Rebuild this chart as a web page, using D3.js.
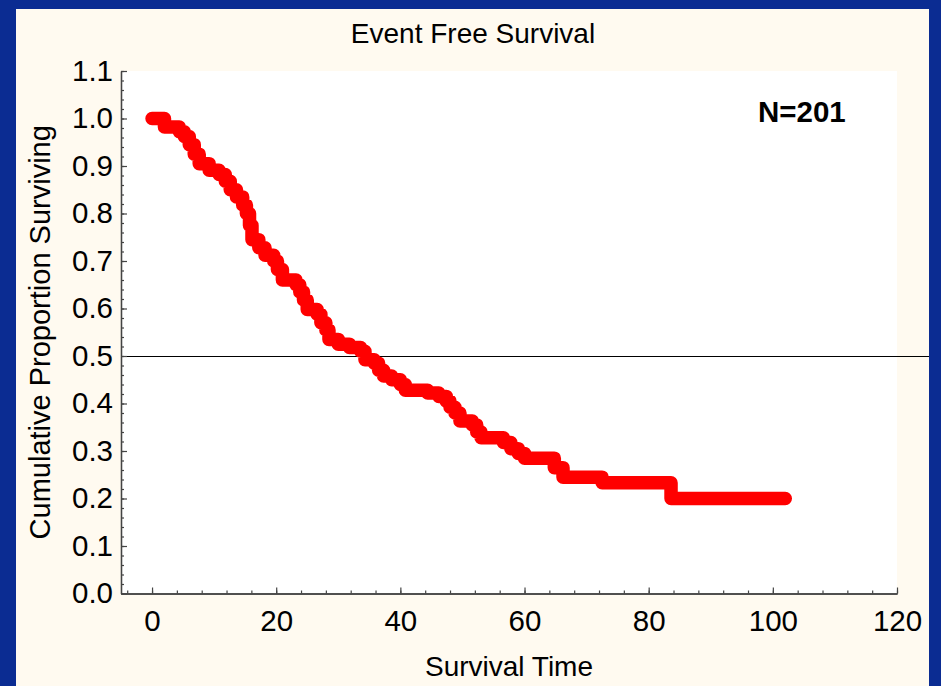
<!DOCTYPE html>
<html><head><meta charset="utf-8">
<script src="https://cdn.jsdelivr.net/npm/d3@7"></script>
<style>
body{margin:0;background:#0b2c92;}
svg{display:block;}
text{font-family:"Liberation Sans",Arial,Helvetica,sans-serif;fill:#000;}
</style>
</head><body>
<svg id="chart" width="941" height="686"></svg>
<script>
// ---- data ----
const eventTimes = [0, 2.0, 4.4, 5.2, 6.0, 6.8, 7.6, 9.2, 10.8, 11.8, 12.6, 13.6, 14.6, 15.2, 15.7, 16.1, 17.2, 18.2, 19.6, 20.2, 21.0, 23.2, 23.8, 24.4, 25.0, 26.6, 27.2, 28.0, 28.5, 30.0, 31.8, 33.6, 34.3, 35.8, 36.5, 37.3, 38.6, 40.0, 40.8, 44.4, 46.2, 47.4, 48.0, 48.8, 49.6, 51.6, 52.3, 53.0, 56.6, 57.8, 59.0, 60.0, 64.8, 66.2, 72.5, 83.6];
const survival   = [1.0, 0.982, 0.972, 0.962, 0.945, 0.925, 0.905, 0.891, 0.882, 0.868, 0.850, 0.835, 0.818, 0.800, 0.775, 0.745, 0.728, 0.712, 0.700, 0.682, 0.660, 0.650, 0.635, 0.618, 0.598, 0.588, 0.570, 0.555, 0.535, 0.525, 0.518, 0.510, 0.492, 0.485, 0.470, 0.458, 0.450, 0.440, 0.428, 0.422, 0.415, 0.405, 0.392, 0.380, 0.363, 0.355, 0.340, 0.328, 0.318, 0.305, 0.295, 0.285, 0.265, 0.245, 0.233, 0.200];
const lastFollowUp = 102;
const xTickValues = [0, 20, 40, 60, 80, 100, 120];
const yTickValues = [0, 0.1, 0.2, 0.3, 0.4, 0.5, 0.6, 0.7, 0.8, 0.9, 1.0, 1.1];
const referenceLevel = 0.5;
const chartTitle = "Event Free Survival";
const xTitle = "Survival Time";
const yTitle = "Cumulative Proportion Surviving";
const noteText = "N=201";

// ---- layout ----
const svg = d3.select("#chart");
const panel = {x0: 16, y0: 9, x1: 929, y1: 686};
const plot = {left: 121, right: 897, top: 71, bottom: 593.5};

const x = d3.scaleLinear().domain([-5, 120]).range([plot.left, plot.right]);
const y = d3.scaleLinear().domain([0, 1.1]).range([plot.bottom, plot.top]);

svg.append("rect").attr("x", 0).attr("y", 0).attr("width", 941).attr("height", 686).attr("fill", "#0b2c92");
svg.append("rect").attr("x", panel.x0).attr("y", panel.y0)
  .attr("width", panel.x1 - panel.x0).attr("height", panel.y1 - panel.y0).attr("fill", "#fffaf0");
svg.append("rect").attr("x", plot.left).attr("y", plot.top)
  .attr("width", plot.right - plot.left).attr("height", plot.bottom - plot.top).attr("fill", "#ffffff");

// reference line
svg.append("line")
  .attr("x1", x.range()[0]).attr("x2", panel.x1)
  .attr("y1", y(referenceLevel) + 0.5).attr("y2", y(referenceLevel) + 0.5)
  .attr("stroke", "#000").attr("stroke-width", 1).attr("shape-rendering", "crispEdges");

// survival curve
const pts = eventTimes.map((t, i) => [t, survival[i]]);
pts.push([lastFollowUp, survival[survival.length - 1]]);
const line = d3.line().x(d => x(d[0])).y(d => y(d[1])).curve(d3.curveStepAfter);
svg.append("path").datum(pts).attr("d", line)
  .attr("fill", "none").attr("stroke", "#ff0000").attr("stroke-width", 13.5)
  .attr("stroke-linejoin", "round").attr("stroke-linecap", "round");

// axes
const axisColor = "#444";
function styleAxis(g) {
  g.selectAll("path.domain").attr("stroke", axisColor).attr("stroke-width", 1.3);
  g.selectAll(".tick line").attr("stroke", axisColor).attr("stroke-width", 1.2);
  g.selectAll("text").attr("font-size", 29.5).attr("font-family", "'Liberation Sans', Arial, sans-serif").attr("fill", "#000");
}
// minor ticks
const gyMinor = svg.append("g").attr("transform", `translate(${plot.left},0)`)
  .call(d3.axisLeft(y).tickValues(d3.range(0, 1.1001, 0.02)).tickSizeInner(-3).tickSizeOuter(0).tickFormat(""));
styleAxis(gyMinor);
const gxMinor = svg.append("g").attr("transform", `translate(0,${plot.bottom})`)
  .call(d3.axisBottom(x).tickValues(d3.range(-4, 121, 4)).tickSizeInner(-3).tickSizeOuter(0).tickFormat(""));
styleAxis(gxMinor);
// major
const gy = svg.append("g").attr("transform", `translate(${plot.left},0)`)
  .call(d3.axisLeft(y).tickValues(yTickValues).tickSizeInner(-6).tickSizeOuter(0).tickPadding(8).tickFormat(d3.format(".1f")));
styleAxis(gy);
const gx = svg.append("g").attr("transform", `translate(0,${plot.bottom})`)
  .call(d3.axisBottom(x).tickValues(xTickValues).tickSizeInner(-6).tickSizeOuter(0).tickPadding(16.5).tickFormat(d3.format("d")));
styleAxis(gx);

// titles
svg.append("text").attr("x", 473).attr("y", 43).attr("text-anchor", "middle")
  .attr("font-size", 28).text(chartTitle);
svg.append("text").attr("x", (plot.left + plot.right) / 2).attr("y", 676).attr("text-anchor", "middle")
  .attr("font-size", 28).text(xTitle);
svg.append("text").attr("transform", `translate(50,${(plot.top + plot.bottom) / 2}) rotate(-90)`)
  .attr("text-anchor", "middle").attr("font-size", 29).text(yTitle);
svg.append("text").attr("x", 758).attr("y", 122).attr("font-size", 29.5).attr("font-weight", "bold").text(noteText);
</script>
</body></html>
